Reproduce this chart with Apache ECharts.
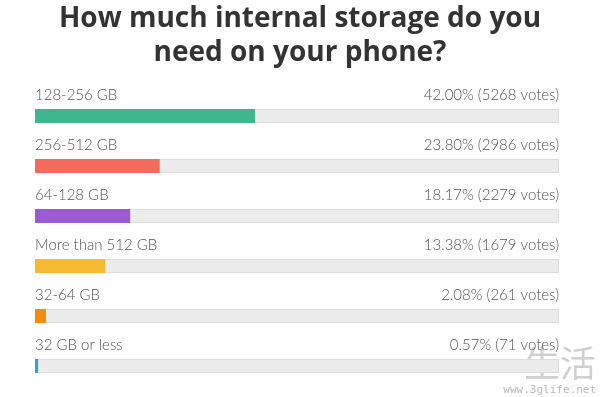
<!DOCTYPE html>
<html>
<head>
<meta charset="utf-8">
<script src="https://cdn.jsdelivr.net/npm/echarts@6/dist/echarts.min.js"></script>
<style>
  html, body { margin: 0; padding: 0; background: #fff; }
  #chart { width: 600px; height: 397px; }
</style>
</head>
<body>
<div id="chart"></div>
<script>
var categories = ['128-256 GB', '256-512 GB', '64-128 GB', 'More than 512 GB', '32-64 GB', '32 GB or less'];
var percents = [42.00, 23.80, 18.17, 13.38, 2.08, 0.57];
var votes = [5268, 2986, 2279, 1679, 261, 71];
var colors = ['#3fb68e', '#f56b5b', '#9c5bd3', '#f6b932', '#f58b0c', '#3aa0d2'];

var chart = echarts.init(document.getElementById('chart'));

var trackData = categories.map(function () { return 100; });

// smallest bars still get a visible sliver like in the poll widget
var barData = percents.map(function (p, i) {
    return { value: Math.max(p, 0.6), itemStyle: { color: colors[i] } };
});

var labelFont = {
    fontFamily: 'Lato',
    fontSize: 15,
    fontWeight: 300,
    color: '#555555'
};

chart.setOption({
    animation: false,
    title: {
        text: 'How much internal storage do you\nneed on your phone?',
        left: 'center',
        top: -3,
        textStyle: {
            fontFamily: 'Open Sans',
            fontWeight: 'bold',
            fontSize: 28,
            lineHeight: 34,
            color: '#333333'
        }
    },
    grid: { left: 35, right: 41, top: 91, bottom: 6 },
    xAxis: { type: 'value', min: 0, max: 100, show: false },
    yAxis: {
        type: 'category',
        data: categories,
        inverse: true,
        show: false
    },
    series: [
        {
            type: 'bar',
            data: trackData,
            barWidth: 14,
            silent: true,
            itemStyle: { color: '#ececec', borderColor: '#dddddd', borderWidth: 1 },
            label: Object.assign({
                show: true,
                position: [0, -6],
                align: 'left',
                verticalAlign: 'bottom',
                formatter: function (p) { return categories[p.dataIndex]; }
            }, labelFont),
            z: 1
        },
        {
            type: 'bar',
            data: trackData,
            barWidth: 14,
            barGap: '-100%',
            silent: true,
            itemStyle: { color: 'rgba(0,0,0,0)' },
            label: Object.assign({
                show: true,
                position: ['100%', -6],
                align: 'right',
                verticalAlign: 'bottom',
                formatter: function (p) {
                    return percents[p.dataIndex].toFixed(2) + '% (' + votes[p.dataIndex] + ' votes)';
                }
            }, labelFont),
            z: 2
        },
        {
            type: 'bar',
            data: barData,
            barWidth: 14,
            barGap: '-100%',
            z: 3
        }
    ],
    graphic: [
        {
            type: 'text',
            right: 4,
            bottom: 16,
            style: { text: '生活', fontFamily: 'Noto Sans CJK SC', fontSize: 36, fill: 'rgba(150,150,150,0.45)' }
        },
        {
            type: 'text',
            right: 4,
            bottom: 1,
            style: { text: 'www.3glife.net', fontFamily: 'DejaVu Sans Mono', fontSize: 11, fill: 'rgba(140,140,140,0.6)' }
        }
    ]
});
</script>
</body>
</html>
